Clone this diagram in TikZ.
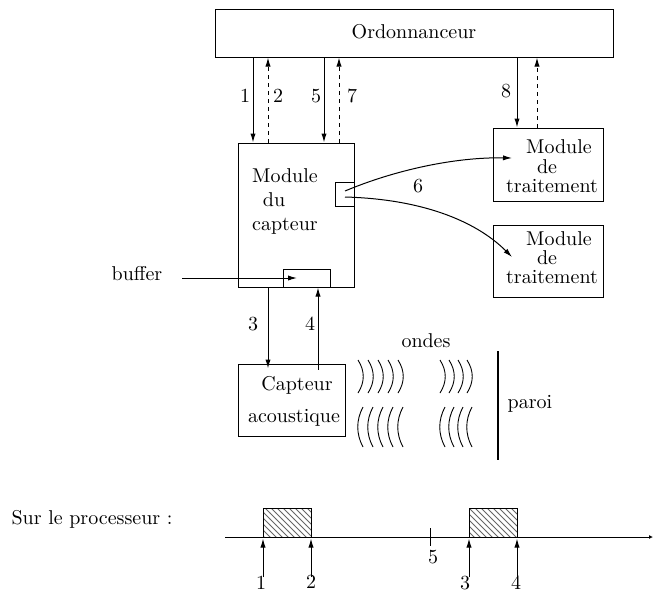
\documentclass[tikz,border=0pt]{standalone}
\usetikzlibrary{arrows.meta,patterns}
\begin{document}
\begin{tikzpicture}[x=0.5pt,y=-0.5pt,
  box/.style={draw,line width=0.5pt,inner sep=0pt},
  txt/.style={inner sep=0pt,text height=1.5ex,text depth=.25ex,font=\fontsize{10}{12}\selectfont},
  lbl/.style={txt},
  arr/.style={line width=0.5pt,-{Latex[length=4.5pt,width=2.6pt]}},
  darr/.style={arr,dash pattern=on 2pt off 2pt},
  wave/.style={line width=0.45pt},
  hatch/.style={pattern=north west lines,pattern color=black!60}]
\useasboundingbox (0,0) rectangle (653,591);

% Ordonnanceur
\node[box,minimum width=199pt,minimum height=24pt] (ord) at (414,33) {};
\node[txt] (ordt) at (414,33) {Ordonnanceur};

% Module du capteur
\node[box,minimum width=58pt,minimum height=72pt] (mod) at (296,215) {};
\node[txt] (m1) at (285,177) {Module};
\node[txt] (m2) at (274,201) {du};
\node[txt] (m3) at (285,225) {capteur};
\node[box,minimum width=9.5pt,minimum height=12pt] (port) at (344.5,194) {};
\node[box,minimum width=23.5pt,minimum height=9pt] (buf) at (306.5,278) {};

% Modules de traitement
\node[box,minimum width=55pt,minimum height=36.5pt] (t1) at (548,164.5) {};
\node[txt] (t1a) at (559,148) {Module};
\node[txt] (t1b) at (547,168) {de};
\node[txt] (t1c) at (552,187) {traitement};
\node[box,minimum width=55pt,minimum height=36pt] (t2) at (548,261) {};
\node[txt] (t2a) at (559,240) {Module};
\node[txt] (t2b) at (547,259) {de};
\node[txt] (t2c) at (552,278) {traitement};

% Capteur acoustique
\node[box,minimum width=53.5pt,minimum height=36pt] (cap) at (291.5,400) {};
\node[txt] (c1) at (297,385) {Capteur};
\node[txt] (c2) at (294,417) {acoustique};

% vertical links
\coordinate (x1) at (253,0);
\coordinate (x2) at (268,0);
\coordinate (x5) at (324,0);
\coordinate (x7) at (339,0);
\coordinate (x8) at (517,0);
\coordinate (x9) at (537,0);
\draw[arr] (x1|-ord.south) -- (x1|-mod.north);
\draw[darr] (x2|-mod.north) -- (x2|-ord.south);
\draw[arr] (x5|-ord.south) -- (x5|-mod.north);
\draw[darr] (x7|-mod.north) -- (x7|-ord.south);
\draw[arr] (x8|-ord.south) -- (x8|-t1.north);
\draw[darr] (x9|-t1.north) -- (x9|-ord.south);
\node[lbl] (l1) at (245,97) {1};
\node[lbl] (l2) at (278,97) {2};
\node[lbl] (l5) at (316,97) {5};
\node[lbl] (l7) at (352,97) {7};
\node[lbl] (l8) at (506,92) {8};

% curves 6
\coordinate (p1) at (345,191);
\coordinate (p2) at (345,197);
\coordinate (e1) at (512,158);
\coordinate (e2) at (512,257);
\draw[arr] (p1) .. controls (395,170) and (455,157) .. (e1);
\draw[arr] (p2) .. controls (420,199) and (475,220) .. (e2);
\node[lbl] (l6) at (418,187) {6};

% buffer
\node[txt] (bt) at (137,275) {buffer};
\coordinate (bs) at (182,278);
\coordinate (be) at (297,278);
\draw[arr] (bs) -- (be);

% 3 and 4
\coordinate (x3) at (268,0);
\coordinate (x4) at (318,0);
\draw[arr] (x3|-mod.south) -- ([yshift=-2.5pt]x3|-cap.north);
\draw[arr] ([yshift=-3pt]x4|-cap.north) -- (x4|-buf.south);
\node[lbl] (l3) at (253,325) {3};
\node[lbl] (l4) at (310,325) {4};

% waves
\foreach \x in {358,368,378,388,398,440,449,458,467}{
  \draw[wave] (\x,360) .. controls (\x+7,371) and (\x+7,382) .. (\x,393);
}
\foreach \x in {363,373,383,393,403,445,454,463,472}{
  \draw[wave] (\x,407) .. controls (\x-7,420) and (\x-7,434) .. (\x,447);
}
\node[txt] (ondes) at (426,342) {ondes};
\coordinate (w1) at (498,351);
\coordinate (w2) at (498,460);
\draw[line width=1.2pt] (w1) -- (w2);
\node[txt] (paroi) at (530,403) {paroi};

% timeline
\node[txt] (sur) at (92,519) {Sur le processeur :};
\draw[hatch,line width=0.5pt] (263,508) rectangle (311,537);
\draw[hatch,line width=0.5pt] (469,508) rectangle (517,537);
\coordinate (a0) at (225,537);
\coordinate (a1) at (653,537);
\draw[line width=0.5pt,-{Latex[length=2pt,width=2pt]}] (a0) -- (a1);
\coordinate (tk1) at (430,528);
\coordinate (tk2) at (430,546);
\draw[line width=0.5pt] (tk1) -- (tk2);
\foreach \x/\n in {263/1,311/2,469/3,517/4}{
  \draw[arr] (\x,577) -- (\x,538.5);
}
\node[lbl] (n1) at (261,584) {1};
\node[lbl] (n2) at (311,583) {2};
\node[lbl] (n5) at (433,558) {5};
\node[lbl] (n3) at (465,584) {3};
\node[lbl] (n4) at (516,584) {4};
\end{tikzpicture}
\end{document}
